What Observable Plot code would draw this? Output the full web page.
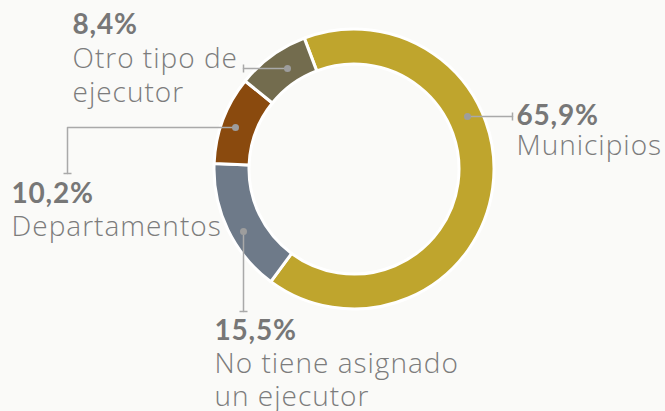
<!DOCTYPE html>
<html><head><meta charset="utf-8">
<script src="https://cdn.jsdelivr.net/npm/d3@7"></script>
<script src="https://cdn.jsdelivr.net/npm/@observablehq/plot@0.6"></script>
<style>
html,body{margin:0;padding:0;background:#fafaf8;overflow:hidden;}
#chart svg{display:block;background:transparent;}
</style></head><body><div id="chart"></div>
<script>
// ---- data ----
const categories = ["Municipios", "No tiene asignado un ejecutor", "Departamentos", "Otro tipo de ejecutor"];
const values = [65.9, 15.5, 10.2, 8.4];
const pctLabels = ["65,9%", "15,5%", "10,2%", "8,4%"];
const nameLines = [["Municipios"], ["No tiene asignado", "un ejecutor"], ["Departamentos"], ["Otro tipo de", "ejecutor"]];
const colors = ["#BFA52D", "#6E7A89", "#8A4A0E", "#736C4E"];

// ---- layout ----
const W = 665, H = 411;
const center = {x: 354, y: 169};
const rOuter = 140, rInner = 105;
const startDeg = -20.8;
const leaders = [
  {path: [[467,116],[512,116]], tick: "v", label: [516,124], lineGap: 30},
  {path: [[243,231],[243,311]], tick: "h", label: [214,339], lineGap: 33},
  {path: [[235,127],[67,127],[67,173]], tick: "h", label: [11,202], lineGap: 33},
  {path: [[287,68],[243,68]], tick: "v", label: [72,33], lineGap: 34}
];

const pie = d3.pie().sort(null).value(d => d)
  .startAngle(startDeg * Math.PI / 180).endAngle(startDeg * Math.PI / 180 + 2 * Math.PI);
const slices = pie(values).map((a, i) => ({...a, category: categories[i]}));

const lineRows = [], dotRows = [], tickRows = [], pctRows = [], nameRows = [];
leaders.forEach((L, i) => {
  L.path.forEach(([x, y]) => lineRows.push({x, y, k: i}));
  dotRows.push({x: L.path[0][0], y: L.path[0][1]});
  const [ex, ey] = L.path[L.path.length - 1];
  if (L.tick === "v") tickRows.push({x1: ex, y1: ey - 4, x2: ex, y2: ey + 4});
  else tickRows.push({x1: ex - 4, y1: ey, x2: ex + 4, y2: ey});
  pctRows.push({x: L.label[0], y: L.label[1], text: pctLabels[i]});
  nameLines[i].forEach((t, j) => nameRows.push({x: L.label[0], y: L.label[1] + L.lineGap * (j + 1), text: t}));
});

const donut = Plot.dot(slices, {
  x: () => center.x, y: () => center.y, fill: "category",
  render(index, scales, values, dims, context) {
    const cx = scales.x(center.x), cy = scales.y(center.y);
    const ro = scales.x(center.x + rOuter) - cx, ri = scales.x(center.x + rInner) - cx;
    const arc = d3.arc().innerRadius(ri).outerRadius(ro);
    const g = d3.create("svg:g").attr("transform", `translate(${cx},${cy})`);
    g.selectAll("path").data(index).join("path")
      .attr("d", i => arc(slices[i]))
      .attr("fill", i => scales.color(slices[i].category))
      .attr("stroke", "#ffffff").attr("stroke-width", 3).attr("stroke-linejoin", "round");
    return g.node();
  }
});

const spaced = (px) => function (index, scales, values, dims, context, next) {
  const g = next(index, scales, values, dims, context);
  g.setAttribute("letter-spacing", px);
  return g;
};

const chart = Plot.plot({
  width: W, height: H, margin: 0,
  x: {domain: [0, W], range: [0, W], axis: null},
  y: {domain: [0, H], range: [0, H], axis: null},
  color: {domain: categories, range: colors},
  style: {background: "transparent", overflow: "visible"},
  marks: [
    donut,
    Plot.line(lineRows, {x: "x", y: "y", z: "k", stroke: "#a9a9a9", strokeWidth: 1.5}),
    Plot.link(tickRows, {x1: "x1", y1: "y1", x2: "x2", y2: "y2", stroke: "#a9a9a9", strokeWidth: 1.5}),
    Plot.dot(dotRows, {x: "x", y: "y", r: 3.5, fill: "#9d9d9d", stroke: "none"}),
    Plot.text(pctRows, {x: "x", y: "y", text: "text", textAnchor: "start", lineAnchor: "bottom", render: spaced("0.8px"),
      fontFamily: "Lato", fontWeight: 700, fontSize: 28, fill: "#777777"}),
    Plot.text(nameRows, {x: "x", y: "y", text: "text", textAnchor: "start", lineAnchor: "bottom", render: spaced("1px"),
      fontFamily: "Open Sans", fontWeight: 300, fontSize: 28, fill: "#7c7c7c"})
  ]
});
document.getElementById("chart").append(chart);
</script>
</body></html>
